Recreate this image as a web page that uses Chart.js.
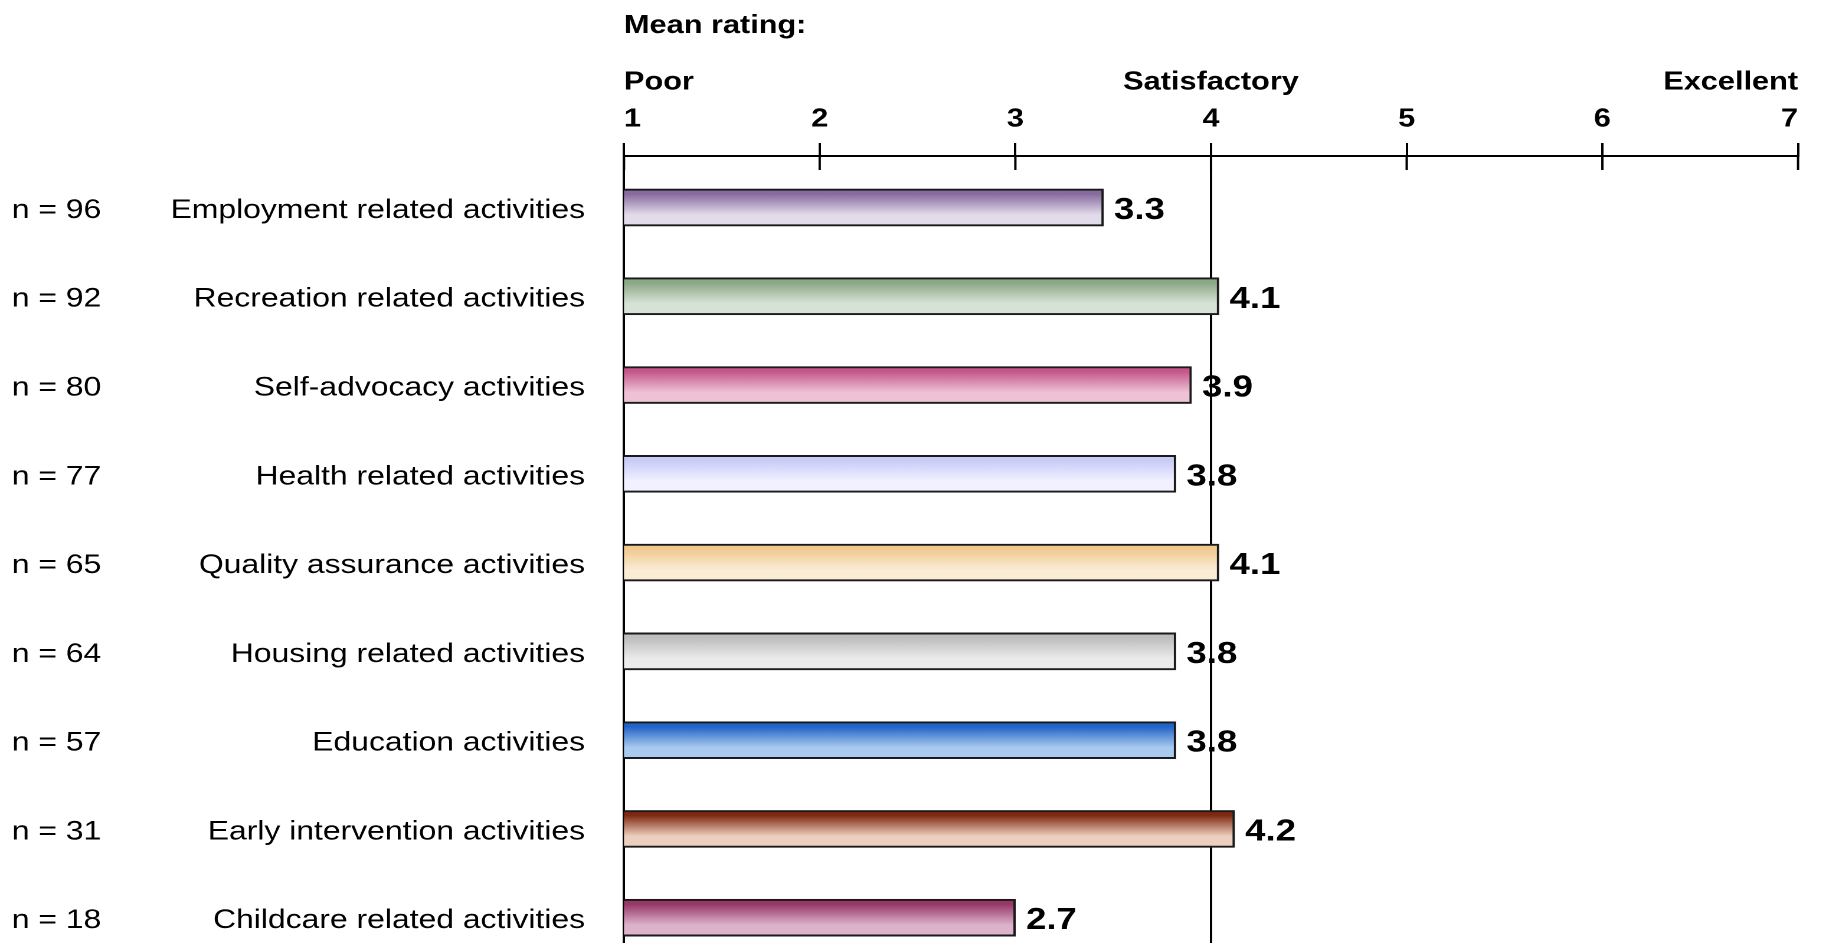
<!DOCTYPE html>
<html>
<head>
<meta charset="utf-8">
<title>Mean rating by activity</title>
<script src="https://cdn.jsdelivr.net/npm/chart.js@4.4.1/dist/chart.umd.min.js"></script>
<style>
  html, body { margin: 0; padding: 0; background: #fff; }
  #chart { display: block; }
</style>
</head>
<body>
<!-- the reference is stretched sideways (~1.18x), so draw on a narrower canvas and let CSS widen it -->
<canvas id="chart" width="1558" height="943" style="width:1839px;height:943px"></canvas>
<script>
const activities = [
    'Employment related activities',
    'Recreation related activities',
    'Self-advocacy activities',
    'Health related activities',
    'Quality assurance activities',
    'Housing related activities',
    'Education activities',
    'Early intervention activities',
    'Childcare related activities'
];
const sampleSizes = [96, 92, 80, 77, 65, 64, 57, 31, 18];
// where each bar ends in the picture
const barEnds = [3.45, 4.04, 3.90, 3.82, 4.04, 3.82, 3.82, 4.12, 3.00];
// the mean printed next to each bar
const meanLabels = ['3.3', '4.1', '3.9', '3.8', '4.1', '3.8', '3.8', '4.2', '2.7'];
const ratingTicks = [1, 2, 3, 4, 5, 6, 7];
const ratingWords = ['Poor', '', '', 'Satisfactory', '', '', 'Excellent'];
const markedRatings = [1, 4];

// bar gradient colours (top, bottom)
const barTop = ['#876b9e', '#8ca785', '#c5568a', '#c9cbf7', '#f1c98f', '#bdbdbd', '#2163c7', '#7f2810', '#963768'];
const barBottom = ['#e2dbea', '#d7e2d7', '#eec1d5', '#f1f1ff', '#fbecd5', '#ebebeb', '#a7caee', '#edcfbf', '#dcb3ca'];

const FONT = "'Liberation Sans', Arial, Helvetica, sans-serif";
Chart.defaults.font.family = FONT;
Chart.defaults.color = '#000';

// vertical gradient per bar, placed from the y scale
function barFill(ctx) {
    const i = ctx.dataIndex;
    const chart = ctx.chart;
    const yScale = chart.scales.y;
    if (i === undefined) return '#ccc';
    if (!chart.chartArea || !yScale) return barBottom[i];
    const mid = yScale.getPixelForValue(i);
    const g = chart.ctx.createLinearGradient(0, mid - 18, 0, mid + 18);
    g.addColorStop(0, barTop[i]);
    g.addColorStop(0.12, barTop[i]);
    g.addColorStop(0.7, barBottom[i]);
    g.addColorStop(1, barBottom[i]);
    return g;
}

// mean value printed right of each bar
const valueLabels = {
    id: 'valueLabels',
    afterDatasetsDraw(chart) {
        const c = chart.ctx;
        const meta = chart.getDatasetMeta(0);
        c.save();
        c.font = `bold 31px ${FONT}`;
        c.fillStyle = '#000';
        c.textAlign = 'left';
        c.textBaseline = 'middle';
        meta.data.forEach((bar, i) => c.fillText(meanLabels[i], bar.x + 9, bar.y + 3));
        c.restore();
    }
};

// tick marks also cross below the axis line
const innerTicks = {
    id: 'innerTicks',
    afterDraw(chart) {
        const x = chart.scales.x;
        const c = chart.ctx;
        c.save();
        c.strokeStyle = '#000';
        c.lineWidth = 2;
        x.ticks.forEach(t => {
            const px = x.getPixelForValue(t.value);
            c.beginPath();
            c.moveTo(px, x.bottom);
            c.lineTo(px, x.bottom + 14);
            c.stroke();
        });
        c.restore();
    }
};

const rowTicks = s => { s.ticks = activities.map((_, i) => ({ value: i })); };

new Chart(document.getElementById('chart'), {
    type: 'bar',
    data: {
        datasets: [{
            data: barEnds.map((v, i) => ({ x: v, y: i })),
            backgroundColor: barFill,
            borderColor: '#1a1a1a',
            borderWidth: 2,
            borderSkipped: false,
            barThickness: 37
        }]
    },
    options: {
        indexAxis: 'y',
        responsive: false,
        animation: false,
        devicePixelRatio: 2,
        layout: { padding: { left: 10, right: 34.7, top: 0, bottom: 0 } },
        plugins: { legend: { display: false }, tooltip: { enabled: false } },
        scales: {
            x: {
                type: 'linear',
                position: 'top',
                min: 1,
                max: 7,
                z: 1,
                afterBuildTicks: s => { s.ticks = ratingTicks.map(v => ({ value: v })); },
                afterFit: s => { s.paddingLeft = 0; s.paddingRight = 0; },
                ticks: {
                    align: 'inner',
                    autoSkip: false,
                    maxRotation: 0,
                    minRotation: 0,
                    padding: 5.2,
                    color: '#000',
                    font: { size: 26, weight: 'bold', lineHeight: '37px' },
                    callback: v => [ratingWords[ratingTicks.indexOf(v)], String(v)]
                },
                grid: {
                    color: c => (c.tick && markedRatings.includes(c.tick.value)) ? '#000' : 'rgba(0,0,0,0)',
                    tickColor: '#000',
                    lineWidth: 2,
                    tickWidth: 2,
                    tickLength: 13,
                    drawOnChartArea: true,
                    drawTicks: true
                },
                border: { display: true, color: '#000', width: 2 },
                title: {
                    display: true,
                    text: 'Mean rating:',
                    align: 'start',
                    color: '#000',
                    font: { size: 26, weight: 'bold', lineHeight: 1.2 },
                    padding: { top: 10.3, bottom: 17.1 }
                }
            },
            y: {
                type: 'linear',
                position: 'left',
                reverse: true,
                offset: false,
                min: -0.58,
                max: 8.285,
                weight: 0,
                afterBuildTicks: rowTicks,
                afterFit: s => { s.width = 418.65; s.paddingTop = 0; s.paddingBottom = 0; },
                grid: { display: false, drawTicks: false },
                border: { display: false },
                ticks: {
                    autoSkip: false,
                    padding: 33,
                    labelOffset: 3,
                    color: '#000',
                    font: { size: 27 },
                    callback: v => activities[v]
                }
            },
            y2: {
                type: 'linear',
                position: 'left',
                reverse: true,
                offset: false,
                min: -0.58,
                max: 8.285,
                weight: 1,
                afterBuildTicks: rowTicks,
                afterFit: s => { s.width = 100; s.paddingTop = 0; s.paddingBottom = 0; },
                grid: { display: false, drawTicks: false },
                border: { display: false },
                ticks: {
                    autoSkip: false,
                    padding: 0,
                    labelOffset: 3,
                    crossAlign: 'far',
                    color: '#000',
                    font: { size: 27 },
                    callback: v => 'n = ' + sampleSizes[v]
                }
            }
        }
    },
    plugins: [valueLabels, innerTicks]
});
</script>
</body>
</html>
